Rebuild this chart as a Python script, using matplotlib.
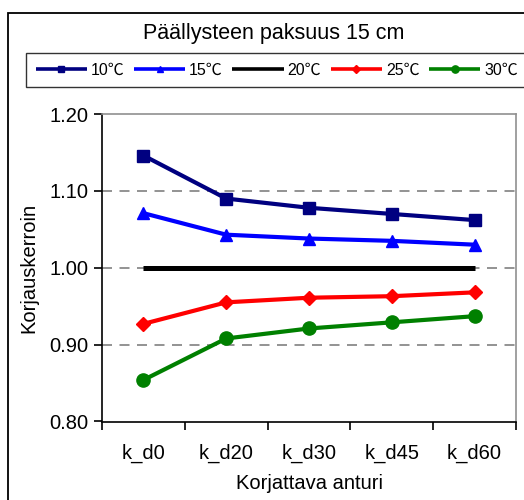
import matplotlib
matplotlib.use("Agg")
import matplotlib.pyplot as plt
from matplotlib.patches import Rectangle

plt.rcParams['font.family'] = ['Liberation Sans', 'Noto Sans CJK JP', 'DejaVu Sans']

categories = ["k_d0", "k_d20", "k_d30", "k_d45", "k_d60"]
series_labels = ["10℃", "15℃", "20℃", "25℃", "30℃"]
t10 = [1.146, 1.090, 1.078, 1.070, 1.062]
t15 = [1.071, 1.043, 1.038, 1.035, 1.030]
t20 = [1.000, 1.000, 1.000, 1.000, 1.000]
t25 = [0.927, 0.955, 0.961, 0.963, 0.968]
t30 = [0.854, 0.908, 0.921, 0.929, 0.937]
yticks = [0.80, 0.90, 1.00, 1.10, 1.20]

W, H = 524, 500
fig = plt.figure(figsize=(W / 100, H / 100), dpi=100)
ax = fig.add_axes([102 / W, 1 - 421.5 / H, (516 - 102) / W, (421.5 - 114) / H])

styles = [
    (t10, "#000080", "s", 9, 3.0),
    (t15, "#0000FF", "^", 9, 3.0),
    (t20, "#000000", None, 0, 3.6),
    (t25, "#FF0000", "D", 7.5, 3.0),
    (t30, "#008000", "o", 9.5, 3.0),
]
x = list(range(len(categories)))
handles = []
for (vals, col, mk, ms, lw), lab in zip(styles, series_labels):
    line, = ax.plot(x, vals, color=col, marker=mk, markersize=ms, lw=lw,
                    solid_capstyle="butt", label=lab, zorder=3)
    handles.append(line)

ax.set_xlim(-0.5, len(categories) - 0.5)
ax.set_ylim(0.80, 1.20)
ax.set_yticks(yticks)
ax.set_yticklabels([f"{v:.2f}" for v in yticks])
ax.set_xticks(x)
ax.set_xticklabels(categories)
ax.set_xticks([i - 0.5 for i in range(len(categories) + 1)], minor=True)
ax.tick_params(axis="x", which="major", length=0, pad=16, labelsize=14.5)
ax.tick_params(axis="x", which="minor", length=6, width=1.2, direction="out")
ax.tick_params(axis="y", length=6, width=1.2, direction="out", pad=4, labelsize=14.5)

for v in yticks[1:-1]:
    ax.axhline(v, color="#808080", lw=1.2, dashes=(6, 4.5), zorder=1)

for s in ["top", "right"]:
    ax.spines[s].set_color("#909090")
    ax.spines[s].set_linewidth(1.2)
for s in ["left", "bottom"]:
    ax.spines[s].set_color("#000000")
    ax.spines[s].set_linewidth(1.2)

ax.set_ylabel("Korjauskerroin", fontsize=14.5, labelpad=8)
ax.set_xlabel("Korjattava anturi", fontsize=14.5, labelpad=8)

fig.text(274 / W, 1 - 33 / H, "Päällysteen paksuus 15 cm", fontsize=15.5,
         ha="center", va="center")

leg = fig.legend(handles=handles, loc="upper left",
                 bbox_to_anchor=(26 / W, 1 - 53 / H), ncol=5,
                 fontsize=11.5, handlelength=3.2, handletextpad=0.25,
                 columnspacing=0.6, borderpad=0.6, frameon=True,
                 fancybox=False, borderaxespad=0, markerscale=0.55)
leg.get_frame().set_edgecolor("#000000")
leg.get_frame().set_linewidth(1.0)
for lh in leg.get_lines():
    lh.set_linewidth(2.6)

fig.patches.append(Rectangle((8 / W, -0.05), 1.2, 1 - 13 / H + 0.05,
                             transform=fig.transFigure, fill=False,
                             edgecolor="#000000", lw=1.3, clip_on=False))

fig.savefig("out.png", dpi=100)
